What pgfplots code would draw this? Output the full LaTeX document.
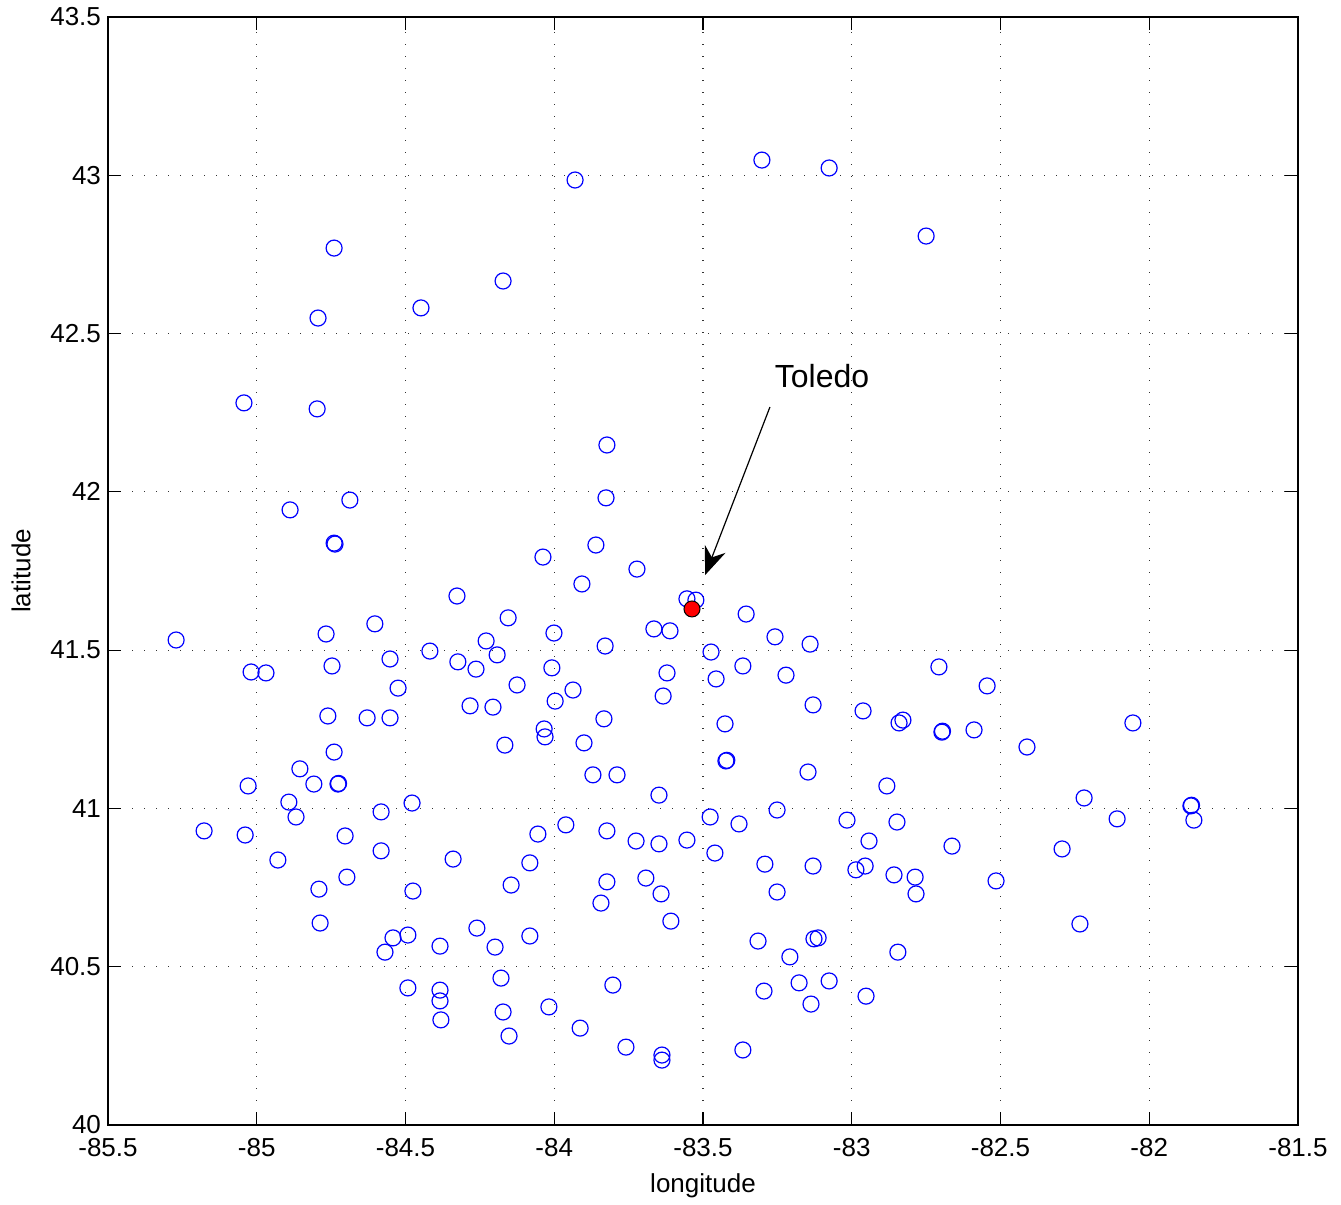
\documentclass[border=0pt]{standalone}
\usepackage{fontspec}
\setmainfont{Liberation Sans}
\usepackage{pgfplots}
\pgfplotsset{compat=1.18}
\usetikzlibrary{arrows.meta}

\pgfplotstableread{
lon lat
-83.302 43.048
-83.076 43.023
-83.930 42.985
-82.750 42.808
-84.740 42.770
-84.172 42.666
-84.448 42.581
-84.794 42.549
-85.043 42.281
-84.797 42.262
-83.823 42.148
-83.826 41.981
-84.687 41.974
-84.888 41.943
-84.740 41.838
-84.737 41.835
-84.038 41.794
-83.860 41.832
-83.907 41.709
-83.722 41.756
-84.327 41.671
-83.554 41.662
-83.524 41.658
-83.355 41.614
-84.155 41.602
-84.767 41.551
-84.603 41.583
-83.665 41.567
-83.611 41.561
-84.001 41.554
-84.229 41.529
-85.271 41.532
-84.418 41.497
-83.829 41.513
-83.258 41.542
-83.140 41.519
-83.473 41.494
-84.324 41.463
-84.192 41.485
-84.552 41.472
-84.747 41.450
-85.019 41.431
-84.969 41.428
-84.263 41.440
-84.008 41.444
-83.621 41.428
-83.366 41.450
-82.707 41.447
-82.545 41.387
-84.525 41.380
-84.125 41.390
-83.937 41.374
-83.456 41.409
-83.221 41.421
-83.997 41.339
-83.634 41.355
-84.283 41.324
-84.206 41.320
-84.761 41.292
-84.629 41.286
-84.552 41.286
-83.833 41.283
-83.130 41.327
-82.962 41.308
-82.828 41.279
-82.841 41.270
-83.426 41.267
-82.697 41.241
-82.695 41.244
-82.589 41.248
-82.055 41.270
-84.034 41.251
-84.031 41.226
-83.900 41.207
-84.166 41.200
-84.740 41.178
-83.423 41.150
-83.420 41.152
-82.411 41.194
-83.789 41.106
-83.870 41.106
-83.147 41.115
-84.855 41.125
-85.029 41.071
-84.808 41.077
-84.727 41.077
-84.725 41.079
-82.882 41.071
-83.648 41.042
-82.219 41.033
-84.892 41.020
-84.478 41.017
-81.860 41.008
-81.858 41.010
-84.582 40.989
-83.251 40.995
-84.868 40.973
-83.476 40.973
-82.108 40.967
-81.850 40.963
-83.016 40.963
-82.848 40.957
-83.961 40.948
-83.379 40.951
-85.177 40.929
-85.039 40.916
-84.703 40.913
-84.055 40.919
-83.823 40.929
-83.725 40.897
-83.648 40.888
-83.554 40.900
-82.942 40.897
-82.663 40.881
-82.293 40.872
-84.582 40.866
-83.460 40.859
-84.929 40.837
-84.340 40.840
-84.082 40.828
-83.292 40.824
-83.130 40.818
-82.955 40.818
-82.986 40.806
-84.697 40.783
-83.692 40.780
-83.823 40.768
-84.145 40.758
-82.858 40.790
-82.787 40.783
-82.515 40.771
-84.791 40.745
-84.475 40.739
-83.641 40.730
-83.251 40.736
-82.784 40.730
-83.843 40.701
-83.608 40.644
-84.787 40.638
-82.233 40.635
-84.260 40.622
-84.492 40.600
-84.542 40.591
-84.082 40.597
-83.315 40.581
-83.127 40.588
-83.113 40.591
-84.569 40.546
-84.384 40.565
-84.199 40.562
-82.845 40.546
-83.208 40.531
-84.179 40.464
-83.177 40.449
-83.076 40.455
-84.492 40.433
-84.384 40.426
-83.803 40.442
-83.295 40.423
-82.952 40.407
-84.384 40.392
-83.137 40.382
-84.018 40.373
-84.172 40.357
-84.381 40.332
-83.913 40.306
-84.152 40.281
-83.759 40.246
-83.366 40.237
-83.638 40.221
-83.638 40.205
}\stations

\begin{document}
\begin{tikzpicture}
\begin{axis}[
  name=ax,
  scale only axis,
  width=595pt, height=554pt,
  xmin=-85.5, xmax=-81.5, ymin=40, ymax=43.5,
  xtick={-85.5,-85,...,-81.5},
  ytick={40,40.5,...,43.5},
  /pgf/number format/assume math mode=true,
  /pgf/number format/fixed,
  tick label style={font=\fontsize{13}{15}\selectfont},
  xticklabel style={yshift=-3pt},
  label style={font=\fontsize{13}{15}\selectfont},
  xlabel={longitude}, ylabel={latitude},
  xlabel style={yshift=-1.5pt},
  ylabel style={yshift=3pt},
  tick align=inside, tick pos=both,
  major tick length=6.5pt,
  axis line style={line width=0.8pt},
  every tick/.style={black, line width=0.6pt},
  grid=major,
  major grid style={black!80, line width=0.6pt, dash pattern=on 0.6pt off 5.4pt},
  clip=false]
\addplot[only marks, mark=o, mark size=4pt, blue, mark options={line width=0.6pt}]
  table[x=lon, y=lat] {\stations};
\addplot[only marks, mark=*, mark size=4pt, mark options={fill=red, draw=black, line width=0.5pt}]
  coordinates {(-83.537,41.630)};
\node[font=\fontsize{16}{19}\selectfont] at (axis cs:-83.10,42.366) {Toledo};
\draw[line width=0.6pt, -{Stealth[length=14pt, width=11pt, inset=4.5pt]}]
  (axis cs:-83.275,42.268) -- (axis cs:-83.493,41.737);
\end{axis}
\path ([xshift=-54pt,yshift=8.5pt]ax.north west);
\path ([xshift=21.5pt,yshift=-38pt]ax.south east);
\end{tikzpicture}
\end{document}
